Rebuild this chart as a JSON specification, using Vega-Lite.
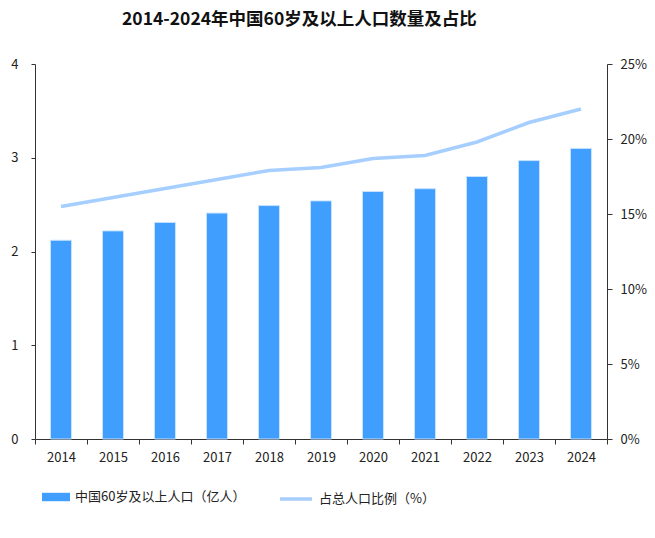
{
  "$schema": "https://vega.github.io/schema/vega-lite/v6.json",
  "width": 572,
  "height": 375,
  "autosize": "none",
  "padding": {"left": 35, "top": 64, "right": 48, "bottom": 99},
  "background": "white",
  "config": {
    "view": {"stroke": null},
    "font": "Noto Sans CJK SC",
    "axis": {"grid": false, "domainColor": "#333333", "tickColor": "#333333", "labelColor": "#222222", "labelFontSize": 13, "labelFont": "Noto Sans CJK SC", "title": null},
    "legend": {"labelFont": "Noto Sans CJK SC", "labelFontSize": 13, "labelColor": "#222222", "padding": 0, "title": null, "labelLimit": 400}
  },
  "title": {"text": "2014-2024年中国60岁及以上人口数量及占比", "font": "Noto Sans CJK SC", "fontSize": 17.5, "fontWeight": "bold", "color": "#111111", "anchor": "start", "frame": "group", "dx": 87, "offset": 30},
  "data": {"values": [
    {"year": "2014", "pop": 2.12, "ratio": 15.5},
    {"year": "2015", "pop": 2.22, "ratio": 16.1},
    {"year": "2016", "pop": 2.31, "ratio": 16.7},
    {"year": "2017", "pop": 2.41, "ratio": 17.3},
    {"year": "2018", "pop": 2.49, "ratio": 17.9},
    {"year": "2019", "pop": 2.54, "ratio": 18.1},
    {"year": "2020", "pop": 2.64, "ratio": 18.7},
    {"year": "2021", "pop": 2.67, "ratio": 18.9},
    {"year": "2022", "pop": 2.80, "ratio": 19.8},
    {"year": "2023", "pop": 2.97, "ratio": 21.1},
    {"year": "2024", "pop": 3.10, "ratio": 22.0}
  ]},
  "encoding": {
    "x": {"field": "year", "type": "ordinal", "scale": {"paddingInner": 0, "paddingOuter": 0},
      "axis": {"labelAngle": 0, "tickBand": "extent", "tickSize": 5, "labelPadding": 7}}
  },
  "layer": [
    {
      "mark": {"type": "bar", "size": 21, "stroke": "#C6E2FF", "strokeWidth": 1},
      "encoding": {
        "y": {"field": "pop", "type": "quantitative", "scale": {"domain": [0, 4], "nice": false},
          "axis": {"values": [0, 1, 2, 3, 4], "tickSize": 4, "labelPadding": 13}},
        "fill": {"datum": "中国60岁及以上人口（亿人）", "scale": {"range": ["#409EFF"]},
          "legend": {"orient": "none", "legendX": 7, "legendY": 419, "symbolType": "M-1,-0.3H1V0.3H-1Z", "symbolSize": 784, "symbolStrokeWidth": 0, "labelOffset": 5}}
      }
    },
    {
      "mark": {"type": "line", "strokeWidth": 3.5},
      "encoding": {
        "y": {"field": "ratio", "type": "quantitative", "scale": {"domain": [0, 25], "nice": false},
          "axis": {"orient": "right", "values": [0, 5, 10, 15, 20, 25], "labelExpr": "datum.value + '%'", "tickSize": 5, "labelPadding": 8}},
        "stroke": {"datum": "占总人口比例（%）", "scale": {"range": ["#A6CFFF"]},
          "legend": {"orient": "none", "legendX": 243, "legendY": 417, "symbolType": "stroke", "symbolSize": 1024, "symbolStrokeWidth": 3.5, "labelOffset": 5}}
      }
    }
  ],
  "resolve": {"scale": {"y": "independent"}}
}
